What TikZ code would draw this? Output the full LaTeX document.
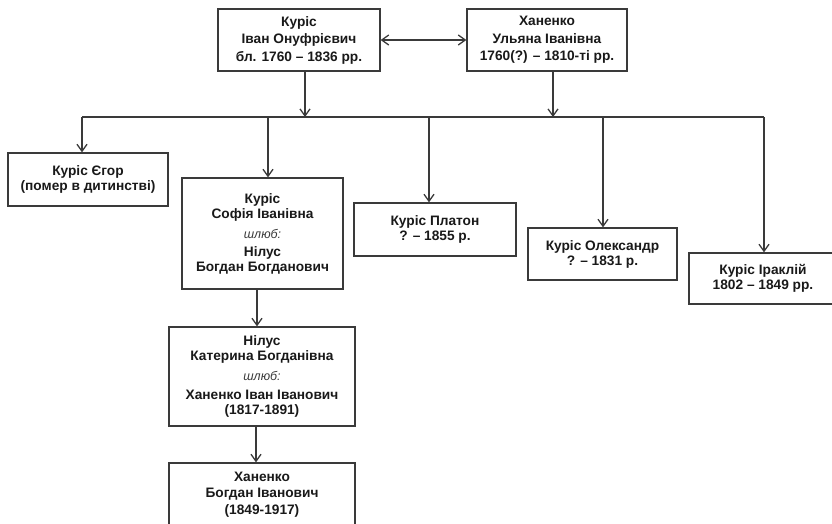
\documentclass[tikz,border=0pt]{standalone}
\usepackage{fontspec}
\setmainfont{Liberation Sans}
\usetikzlibrary{arrows.meta}
\definecolor{linegray}{HTML}{3A3A3A}
\newcommand{\shlyub}{{\mdseries\itshape\color{linegray}\fontsize{12.5}{15}\selectfont шлюб:}}

\begin{document}
\begin{tikzpicture}[x=1pt,y=-1pt]
                        \tikzstyle{person}=[draw=linegray, line width=1.3pt, align=center, inner sep=0pt,
                            font=\bfseries\fontsize{13.7}{15}\selectfont, text=black!90]
                        \tikzstyle{link}=[draw=linegray, line width=1.3pt]
                        \tikzstyle{arr}=[link, -{Straight Barb[length=7pt,width=10pt]}]
                        \useasboundingbox (0,0) rectangle (832,523);
                        % parents
                        \node[person, minimum width=162pt, minimum height=62pt,
                            font=\bfseries\fontsize{13.7}{17.5}\selectfont] (ivan) at (299,40)
                            {Куріс\\Іван Онуфрієвич\\бл. 1760 – 1836 рр.};
                        \node[person, minimum width=160pt, minimum height=62pt,
                            font=\bfseries\fontsize{13.7}{17.5}\selectfont] (ulyana) at (547,40)
                            {Ханенко\\Ульяна Іванівна\\1760(?) – 1810-ті рр.};
                        % children
                        \node[person, minimum width=160pt, minimum height=53pt] (egor) at (88,179.5)
                            {Куріс Єгор\\(помер в дитинстві)};
                        \node[person, minimum width=161pt, minimum height=111pt] (sofia) at (262.5,233.5)
                            {Куріс\\Софія Іванівна\\[5pt]\shlyub\\[3pt]Нілус\\Богдан Богданович};
                        \node[person, minimum width=162pt, minimum height=53pt] (platon) at (435,229.5)
                            {Куріс Платон\\? – 1855 р.};
                        \node[person, minimum width=149pt, minimum height=52pt] (oleksandr) at (602.5,254)
                            {Куріс Олександр\\? – 1831 р.};
                        \node[person, minimum width=148pt, minimum height=51pt] (irakliy) at (763,278.5)
                            {Куріс Іраклій\\1802 – 1849 рр.};
                        % descendants
                        \node[person, minimum width=186pt, minimum height=99pt] (nilus) at (262,376.5)
                            {Нілус\\Катерина Богданівна\\[5pt]\shlyub\\[4pt]Ханенко Іван Іванович\\(1817-1891)};
                        \node[person, minimum width=186pt, minimum height=63pt,
                            font=\bfseries\fontsize{13.7}{16.5}\selectfont] (bogdan) at (262,494.5)
                            {Ханенко\\Богдан Іванович\\(1849-1917)};
                        % connectors
                        \coordinate (barW) at (82,117);
                        \coordinate (barE) at (764,117);
                        \coordinate (fromIvan) at (305,117);
                        \coordinate (fromUlyana) at (553,117);
                        \coordinate (toSofia) at (268,117);
                        \coordinate (toPlaton) at (429,117);
                        \coordinate (toOleksandr) at (603,117);
                        \draw[link, {Straight Barb[length=7pt,width=10pt]}-{Straight Barb[length=7pt,width=10pt]}]
                            (ivan.east) -- (ulyana.west);
                        \draw[arr] (ivan.south -| fromIvan) -- (fromIvan);
                        \draw[arr] (ulyana.south -| fromUlyana) -- (fromUlyana);
                        \draw[link] (barW) -- (barE);
                        \draw[arr] (barW) -- (barW |- egor.north);
                        \draw[arr] (toSofia) -- (toSofia |- sofia.north);
                        \draw[arr] (toPlaton) -- (toPlaton |- platon.north);
                        \draw[arr] (toOleksandr) -- (toOleksandr |- oleksandr.north);
                        \draw[arr] (barE) -- (barE |- irakliy.north);
                        \coordinate (sofiaDown) at (257,0);
                        \coordinate (nilusDown) at (256,0);
                        \draw[arr] (sofia.south -| sofiaDown) -- (nilus.north -| sofiaDown);
                        \draw[arr] (nilus.south -| nilusDown) -- (bogdan.north -| nilusDown);
                    \end{tikzpicture}
\end{document}
